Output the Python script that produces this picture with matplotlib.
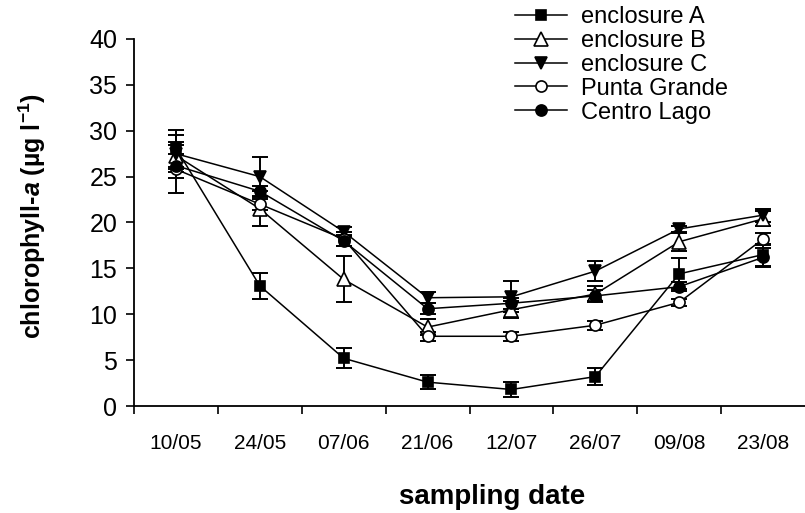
import matplotlib; matplotlib.use('Agg')
import matplotlib.pyplot as plt

plt.rcParams['font.family'] = ['Liberation Sans', 'DejaVu Sans']
plt.rcParams['mathtext.fontset'] = 'custom'
plt.rcParams['mathtext.rm'] = 'Liberation Sans:bold'
plt.rcParams['mathtext.it'] = 'Liberation Sans:italic:bold'
plt.rcParams['mathtext.bf'] = 'Liberation Sans:bold'

dates = ['10/05', '24/05', '07/06', '21/06', '12/07', '26/07', '09/08', '23/08']

encl_a = [28.1, 13.1, 5.2, 2.6, 1.8, 3.2, 14.4, 16.5]
encl_a_err = [2.0, 1.4, 1.1, 0.8, 0.8, 0.9, 1.7, 1.2]
encl_b = [27.3, 21.5, 13.8, 8.6, 10.5, 12.2, 17.9, 20.4]
encl_b_err = [1.5, 1.9, 2.5, 0.9, 0.9, 0.9, 1.0, 0.8]
encl_c = [27.5, 25.0, 19.0, 11.8, 11.9, 14.7, 19.3, 20.8]
encl_c_err = [2.0, 2.1, 0.5, 0.6, 1.7, 1.1, 0.3, 0.7]
punta = [25.8, 22.0, 18.2, 7.6, 7.6, 8.8, 11.3, 18.2]
punta_err = [2.6, 0.6, 0.8, 0.5, 0.5, 0.5, 0.4, 0.7]
centro = [26.2, 23.4, 18.0, 10.6, 11.2, 12.0, 13.0, 16.2]
centro_err = [1.3, 0.6, 0.6, 0.6, 0.6, 0.6, 0.5, 1.0]

series = [
    ('enclosure A', encl_a, encl_a_err, 's', 'black', 7.5),
    ('enclosure B', encl_b, encl_b_err, '^', 'white', 9.5),
    ('enclosure C', encl_c, encl_c_err, 'v', 'black', 8),
    ('Punta Grande', punta, punta_err, 'o', 'white', 8),
    ('Centro Lago', centro, centro_err, 'o', 'black', 8),
]

W, H = 805, 513
fig = plt.figure(figsize=(W/100, H/100), dpi=100)
ax = fig.add_axes([134/W, 107/H, (W-134)/W, 367/H])

x = list(range(len(dates)))
handles = []
for lab, vals, err, mk, fc, ms in series:
    ax.errorbar(x, vals, yerr=err, fmt='none', ecolor='black', elinewidth=1.4,
                capsize=6, capthick=1.4, zorder=2)
    ln, = ax.plot(x, vals, '-', color='black', lw=1.1, marker=mk, ms=ms,
                  mfc=fc, mec='black', mew=1.2, zorder=3, label=lab)
    handles.append(ln)

ax.set_xlim(-0.5, 7.5)
ax.set_ylim(0, 40)
ax.set_yticks(range(0, 41, 5))
ax.set_xticks([i - 0.5 for i in range(8)])
ax.set_xticklabels([])
ax.set_xticks(x, minor=True)
ax.set_xticklabels(dates, minor=True)
ax.tick_params(axis='x', which='major', direction='out', length=6, width=1.2)
ax.tick_params(axis='x', which='minor', length=0, pad=20, labelsize=15)
ax.tick_params(axis='y', direction='out', length=6, width=1.2, pad=6, labelsize=18)
for s in ['top', 'right']:
    ax.spines[s].set_visible(False)
for s in ['left', 'bottom']:
    ax.spines[s].set_linewidth(1.3)

fig.text(32/W, 1 - 216/H, r'chlorophyll-$\mathit{a}$ (µg l$^{-1}$)', rotation=90,
         ha='center', va='center', fontsize=18, fontweight='bold')
fig.text(492/W, 1 - 497/H, 'sampling date', ha='center', va='center',
         fontsize=20, fontweight='bold')

fig.legend(handles=handles, loc='upper left', bbox_to_anchor=(515/W, 1 - 6/H),
           frameon=False, fontsize=17, handlelength=2.2, handletextpad=0.6,
           labelspacing=0.08, borderpad=0, borderaxespad=0)

fig.savefig('out.png', dpi=100)
